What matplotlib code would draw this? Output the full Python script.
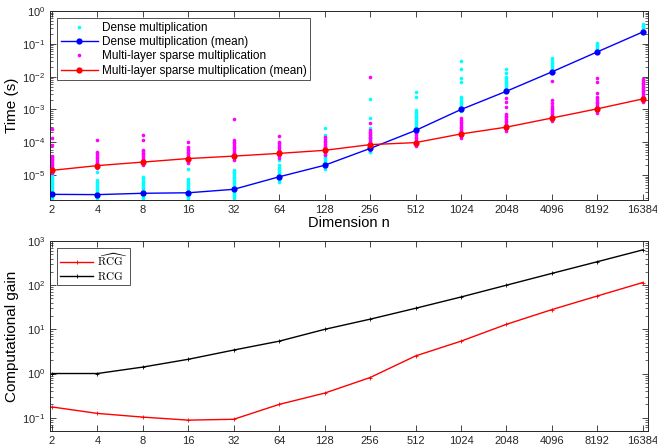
import numpy as np
import matplotlib
matplotlib.use("Agg")
import matplotlib.pyplot as plt
from matplotlib.ticker import LogLocator, NullFormatter, FixedLocator, FixedFormatter

plt.rcParams['font.family'] = ['Liberation Sans', 'DejaVu Sans']
plt.rcParams['mathtext.fontset'] = 'cm'

n_values = [2, 4, 8, 16, 32, 64, 128, 256, 512, 1024, 2048, 4096, 8192, 16384]
x_labels = [str(v) for v in n_values]

dense_mean = [2.6e-6, 2.55e-6, 2.8e-6, 2.9e-6, 3.7e-6, 8.9e-6, 2.0e-5, 6.5e-5,
              2.3e-4, 1.0e-3, 3.6e-3, 1.4e-2, 5.7e-2, 0.23]
sparse_mean = [1.4e-5, 1.95e-5, 2.5e-5, 3.2e-5, 3.8e-5, 4.6e-5, 5.7e-5, 8.5e-5,
               9.8e-5, 1.8e-4, 2.9e-4, 5.5e-4, 1.05e-3, 2.1e-3]

# individual run times (log10 seconds), one list per dimension
dense_samples_log10 = [
    [-4.95, -5.0, -5.05, -5.1, -5.15, -5.2, -5.25, -5.3, -5.35, -5.4, -5.45, -5.5, -5.55, -5.6, -5.65, -5.7, -5.75],
    [-4.90, -5.15, -5.2, -5.25, -5.3, -5.35, -5.4, -5.45, -5.5, -5.55, -5.6, -5.65, -5.7, -5.75],
    [-5.06, -5.1, -5.15, -5.2, -5.25, -5.3, -5.35, -5.4, -5.45, -5.5, -5.55, -5.6, -5.65, -5.7, -5.75],
    [-4.82, -5.13, -5.18, -5.23, -5.28, -5.33, -5.38, -5.43, -5.48, -5.53, -5.58, -5.63, -5.68, -5.73],
    [-4.85, -4.9, -4.95, -5.0, -5.05, -5.1, -5.15, -5.2, -5.25, -5.3, -5.35, -5.4, -5.45, -5.5, -5.55, -5.6, -5.65, -5.7],
    [-4.54, -4.7, -4.75, -4.8, -4.85, -4.9, -4.95, -5.0, -5.05, -5.1, -5.15, -5.2],
    [-3.55, -3.78, -4.39, -4.44, -4.49, -4.54, -4.59, -4.64, -4.69, -4.74, -4.8],
    [-2.69, -3.25, -3.55, -3.78, -3.83, -3.88, -3.93, -3.98, -4.03, -4.08, -4.13, -4.18, -4.23, -4.28, -4.31],
    [-2.46, -2.61, -3.02, -3.07, -3.12, -3.17, -3.22, -3.27, -3.32, -3.37, -3.42, -3.47, -3.52, -3.57, -3.62],
    [-1.52, -1.78, -2.05, -2.17, -2.61, -2.66, -2.71, -2.76, -2.81, -2.86, -2.91, -2.96, -3.01, -3.06],
    [-1.78, -1.9, -2.0, -2.05, -2.1, -2.15, -2.2, -2.25, -2.3, -2.35, -2.4, -2.45],
    [-1.44, -1.49, -1.54, -1.59, -1.64, -1.69, -1.74, -1.79, -1.84, -1.89],
    [-0.97, -1.02, -1.07, -1.12, -1.17, -1.22],
    [-0.40, -0.45, -0.5, -0.55, -0.6],
]
sparse_samples_log10 = [
    [-3.60, -3.88, -4.08, -4.42, -4.46, -4.5, -4.55, -4.6, -4.65, -4.7, -4.75, -4.8, -4.85, -4.9, -4.95],
    [-3.93, -4.29, -4.34, -4.39, -4.44, -4.49, -4.54, -4.59, -4.64, -4.69, -4.74, -4.79],
    [-3.78, -3.93, -4.22, -4.27, -4.32, -4.37, -4.42, -4.47, -4.52, -4.57, -4.62, -4.67, -4.7],
    [-4.0, -4.14, -4.19, -4.24, -4.29, -4.34, -4.39, -4.44, -4.49, -4.54, -4.59, -4.64],
    [-3.30, -3.93, -3.98, -4.03, -4.08, -4.13, -4.18, -4.23, -4.28, -4.33, -4.38, -4.43, -4.48, -4.53],
    [-3.81, -3.98, -4.03, -4.08, -4.13, -4.18, -4.23, -4.28, -4.33, -4.38, -4.43, -4.48],
    [-3.85, -3.9, -3.95, -4.0, -4.05, -4.1, -4.15, -4.2, -4.25, -4.3, -4.35, -4.39],
    [-2.0, -3.40, -3.63, -3.68, -3.73, -3.78, -3.83, -3.88, -3.93, -3.98, -4.03, -4.08, -4.13, -4.18, -4.24],
    [-3.58, -3.63, -3.68, -3.73, -3.78, -3.83, -3.88, -3.93, -3.98, -4.03, -4.08, -4.12],
    [-3.0, -3.27, -3.32, -3.37, -3.42, -3.47, -3.52, -3.57, -3.62, -3.67, -3.72, -3.77, -3.82, -3.87],
    [-2.66, -2.78, -2.92, -3.14, -3.19, -3.24, -3.29, -3.34, -3.39, -3.44, -3.49, -3.54, -3.59, -3.64],
    [-2.13, -2.71, -2.8, -2.9, -2.95, -3.0, -3.05, -3.1, -3.15, -3.2, -3.25, -3.3, -3.35],
    [-2.05, -2.15, -2.51, -2.61, -2.66, -2.71, -2.76, -2.81, -2.86, -2.91, -2.96, -3.01, -3.06, -3.11],
    [-2.08, -2.13, -2.18, -2.23, -2.28, -2.33, -2.38, -2.43, -2.48, -2.53, -2.58, -2.63, -2.68, -2.73, -2.77],
]

rcg_hat = [0.175, 0.125, 0.103, 0.088, 0.092, 0.2, 0.36, 0.81, 2.5, 5.4, 13, 28, 57, 115]
rcg = [1.0, 1.0, 1.4, 2.1, 3.4, 5.4, 10, 17, 30, 54, 100, 185, 340, 630]

CYAN = '#00ffff'
MAGENTA = '#ff00ff'
BLUE = '#0000ff'
RED = '#ff0000'

fig = plt.figure(figsize=(6.57, 4.48), dpi=100)
ax1 = fig.add_axes([0.076, 0.5536, 0.910, 0.4218])
ax2 = fig.add_axes([0.076, 0.038, 0.910, 0.424])

def scatter_samples(ax, samples, color, label):
    xs, ys = [], []
    for n, s in zip(n_values, samples):
        xs.extend([n] * len(s))
        ys.extend(10.0 ** np.array(s))
    ax.plot(xs, ys, linestyle='none', marker='o', ms=2.6, mew=0,
            color=color, label=label, zorder=2)

scatter_samples(ax1, dense_samples_log10, CYAN, 'Dense multiplication')
ax1.plot(n_values, dense_mean, '-o', color=BLUE, lw=1.0, ms=4.5, mew=0,
         label='Dense multiplication (mean)', zorder=3)
scatter_samples(ax1, sparse_samples_log10, MAGENTA, 'Multi-layer sparse multiplication')
ax1.plot(n_values, sparse_mean, '-o', color=RED, lw=1.0, ms=4.5, mew=0,
         label='Multi-layer sparse multiplication (mean)', zorder=4)

ax2.plot(n_values, rcg_hat, '-+', color=RED, lw=1.0, ms=3, mew=0.6,
         label=r'$\widehat{\mathrm{RCG}}$')
ax2.plot(n_values, rcg, '-+', color='black', lw=1.0, ms=3, mew=0.6,
         label=r'$\mathrm{RCG}$')

xlo = 2 * 2 ** -0.044
xhi = 16384 * 2 ** 0.11
for ax in (ax1, ax2):
    ax.set_xscale('log', base=2)
    ax.set_yscale('log')
    ax.set_xlim(xlo, xhi)
    ax.xaxis.set_major_locator(FixedLocator(n_values))
    ax.xaxis.set_major_formatter(FixedFormatter(x_labels))
    ax.xaxis.set_minor_locator(FixedLocator([]))
    ax.yaxis.set_major_locator(LogLocator(base=10, numticks=20))
    ax.yaxis.set_minor_locator(LogLocator(base=10, subs=np.arange(2, 10), numticks=20))
    ax.yaxis.set_minor_formatter(NullFormatter())
    ax.tick_params(which='both', direction='in', top=True, right=True,
                   labelsize=8, colors='#262626', labelcolor='#262626')
    ax.tick_params(which='major', length=4, width=0.6)
    ax.tick_params(which='minor', length=2, width=0.5)
    for sp in ax.spines.values():
        sp.set_linewidth(0.7)
        sp.set_color('#262626')

ax1.set_ylim(1.75e-6, 1.0)
ax2.set_ylim(0.05, 1000)

ax1.set_ylabel('Time (s)', fontsize=11, labelpad=2)
ax1.set_xlabel('Dimension n', fontsize=10.5, labelpad=1)
ax2.set_ylabel('Computational gain', fontsize=11, labelpad=2)

leg1 = ax1.legend(loc='upper left', fontsize=8.5, frameon=True, fancybox=False,
                  edgecolor='#262626', borderpad=0.3, labelspacing=0.2,
                  handlelength=3.2, handletextpad=0.3, borderaxespad=0.6)
leg1.get_frame().set_linewidth(0.7)
leg2 = ax2.legend(loc='upper left', fontsize=8, frameon=True, fancybox=False,
                  edgecolor='#262626', borderpad=0.3, labelspacing=0.15,
                  handlelength=3.0, handletextpad=0.3, borderaxespad=0.6)
leg2.get_frame().set_linewidth(0.7)

fig.savefig('out.png', dpi=100)
